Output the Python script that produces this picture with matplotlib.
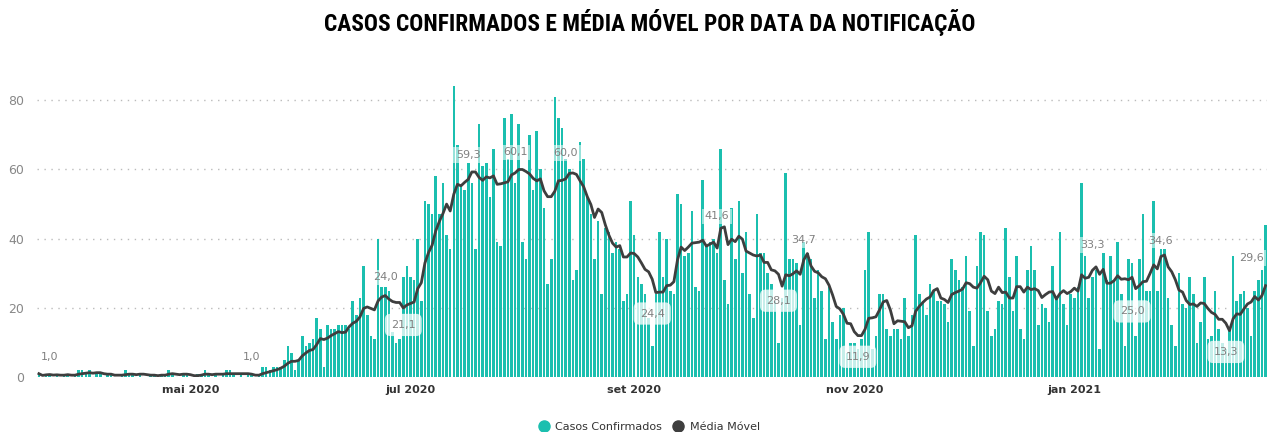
import matplotlib.pyplot as plt
from matplotlib.lines import Line2D
from matplotlib import font_manager
import pandas as pd

# casos diarios, a partir de 20/03/2020
inicio = "2020-03-20"
casos_mar_mai = [1, 0, 1, 1, 0, 1, 0, 1, 1, 0, 1, 2, 2, 1, 2, 0, 1, 1, 0, 1,
                 1, 0, 0, 1, 2, 1, 1, 0, 1, 0, 0, 1, 1, 0, 1, 1, 2, 1, 0, 0,
                 1, 1, 0, 0, 1, 1, 2, 1, 0, 1, 0, 1, 2, 2, 1, 0, 1, 0, 1, 1,
                 0, 1]
casos_mai_jun = [3, 3, 2, 3, 3, 3, 5, 9, 7, 2, 5, 12, 9, 10, 11, 17, 14, 3,
                 15, 14, 14, 15]
casos_jun_ago = [15, 15, 14, 22, 18, 23, 32, 18, 12, 11, 40, 26, 26, 25, 13,
                 10, 11, 29, 32, 29, 28, 40, 22, 51, 50, 47, 58, 47, 56, 41,
                 37, 84, 67, 55, 54, 62, 56, 37, 73, 61, 62, 52, 66, 39, 38,
                 75]
casos_ago_set = [63, 76, 56, 73, 39, 34, 70, 54, 71, 60, 49, 27, 34, 81, 75,
                 72, 63, 60, 28, 31, 68, 63, 52, 47, 34, 45, 24, 43, 42, 36,
                 39, 37, 22, 24, 51, 41, 29, 27, 24, 17, 9, 24, 42]
casos_set_out = [29, 40, 25, 24, 53, 50, 35, 36, 48, 26, 25, 57, 38, 39, 40,
                 36, 66, 28, 21, 49, 34, 51, 30, 42, 24, 17, 47, 36, 36, 30,
                 27, 22, 10, 23, 59, 34, 34, 33, 15, 39, 36, 34]
casos_out_dez = [23, 31, 25, 11, 26, 16, 11, 18, 20, 7, 10, 10, 8, 11, 31, 42,
                 8, 12, 24, 24, 14, 12, 14, 14, 11, 23, 12, 18, 41, 24, 22,
                 18, 27, 25, 22, 22, 21, 16, 34, 31, 28, 26, 35]
casos_dez_jan = [19, 9, 32, 42, 41, 19, 12, 14, 22, 21, 43, 29, 19, 35, 14,
                 11, 31, 38, 31, 15, 21, 20, 16, 32, 23, 42, 21, 15, 24, 23,
                 26, 56, 35, 23, 29, 31, 8, 36, 28, 35, 28, 39]
casos_jan_fev = [24, 9, 34, 33, 12, 34, 47, 25, 25, 51, 25, 37, 37, 23, 15, 9,
                 30, 21, 20, 29, 24, 10, 16, 29, 11, 12, 25, 14, 10, 8, 14,
                 35, 22, 24, 25, 20, 12, 25, 28, 31, 44]

casos = (casos_mar_mai + casos_mai_jun + casos_jun_ago + casos_ago_set
         + casos_set_out + casos_out_dez + casos_dez_jan + casos_jan_fev)
datas = pd.date_range(inicio, periods=len(casos), freq="D")
media = pd.Series(casos, index=datas).rolling(7, min_periods=1).mean()

# rotulos de dados da media movel
rotulo_datas = ["2020-03-23", "2020-05-18", "2020-06-24", "2020-06-29",
                "2020-07-17", "2020-07-30", "2020-08-13", "2020-09-06",
                "2020-09-24", "2020-10-11", "2020-10-18", "2020-11-02",
                "2021-01-06", "2021-01-17", "2021-01-25", "2021-02-12",
                "2021-02-19"]
rotulo_textos = ["1,0", "1,0", "24,0", "21,1", "59,3", "60,1", "60,0", "24,4",
                 "41,6", "28,1", "34,7", "11,9", "33,3", "25,0", "34,6",
                 "13,3", "29,6"]
rotulo_acima = [True, True, True, False, True, True, True, False,
                True, False, True, False, True, False, True, False, True]

meses_ticks = ["2020-05-01", "2020-07-01", "2020-09-01", "2020-11-01",
               "2021-01-01"]
meses_rotulos = ["mai 2020", "jul 2020", "set 2020", "nov 2020", "jan 2021"]

cor_barra = "#1BBFAF"
cor_linha = "#3E3E3E"

# fonte condensada para o titulo, se houver
nomes = {f.name for f in font_manager.fontManager.ttflist}
fonte_titulo, tam_titulo = "DejaVu Sans", 12.5
for nome in ["Liberation Sans Narrow", "Roboto Condensed", "DejaVu Sans Condensed"]:
    if nome in nomes:
        fonte_titulo, tam_titulo = nome, 16.8
        break

fig = plt.figure(figsize=(12.67, 4.32), dpi=100)
ax = fig.add_axes([0.029, 0.127, 0.971, 0.705])

ax.bar(datas, casos, width=0.72, color=cor_barra, zorder=2)
ax.plot(datas, media.values, color=cor_linha, lw=2, zorder=3)

for d, t, acima in zip(rotulo_datas, rotulo_textos, rotulo_acima):
    v = float(t.replace(",", "."))
    if acima:
        ax.annotate(t, (pd.Timestamp(d), v), xytext=(0, 12),
                    textcoords="offset points", ha="center", va="center",
                    fontsize=8, color="#808080", zorder=5,
                    bbox=dict(boxstyle="square,pad=0.25", fc="white",
                              ec="none", alpha=0.55))
    else:
        ax.annotate(t, (pd.Timestamp(d), v), xytext=(0, -15),
                    textcoords="offset points", ha="center", va="center",
                    fontsize=8, color="#808080", zorder=5,
                    bbox=dict(boxstyle="round,pad=0.55,rounding_size=0.5",
                              fc="white", ec="none", alpha=0.75))

ax.set_xlim(datas[0] - pd.Timedelta(days=0.6), datas[-1] + pd.Timedelta(days=0.4))
ax.set_ylim(0, 88)
ax.set_yticks([0, 20, 40, 60, 80])
ax.set_xticks([pd.Timestamp(m) for m in meses_ticks])
ax.set_xticklabels(meses_rotulos, fontsize=8, fontweight="bold", color="#333333")
ax.tick_params(axis="y", length=0, pad=9, labelsize=9, labelcolor="#888888")
ax.tick_params(axis="x", length=0, pad=6)
for s in ax.spines.values():
    s.set_visible(False)
ax.grid(axis="y", color="#BBBBBB", linestyle=(0, (1, 4)), lw=1, zorder=0)
ax.set_axisbelow(True)

fig.text(0.513, 0.948, "CASOS CONFIRMADOS E MÉDIA MÓVEL POR DATA DA NOTIFICAÇÃO",
         ha="center", va="center", fontsize=tam_titulo, fontweight="bold",
         family=fonte_titulo, color="black")

handles = [Line2D([], [], marker="o", ls="", color=cor_barra, markersize=8),
           Line2D([], [], marker="o", ls="", color=cor_linha, markersize=8)]
fig.legend(handles, ["Casos Confirmados", "Média Móvel"], loc="center",
           bbox_to_anchor=(0.51, 0.012), ncol=2, frameon=False, fontsize=8,
           handletextpad=0.05, columnspacing=0.4, labelcolor="#333333")

fig.savefig("out.png", dpi=100)
